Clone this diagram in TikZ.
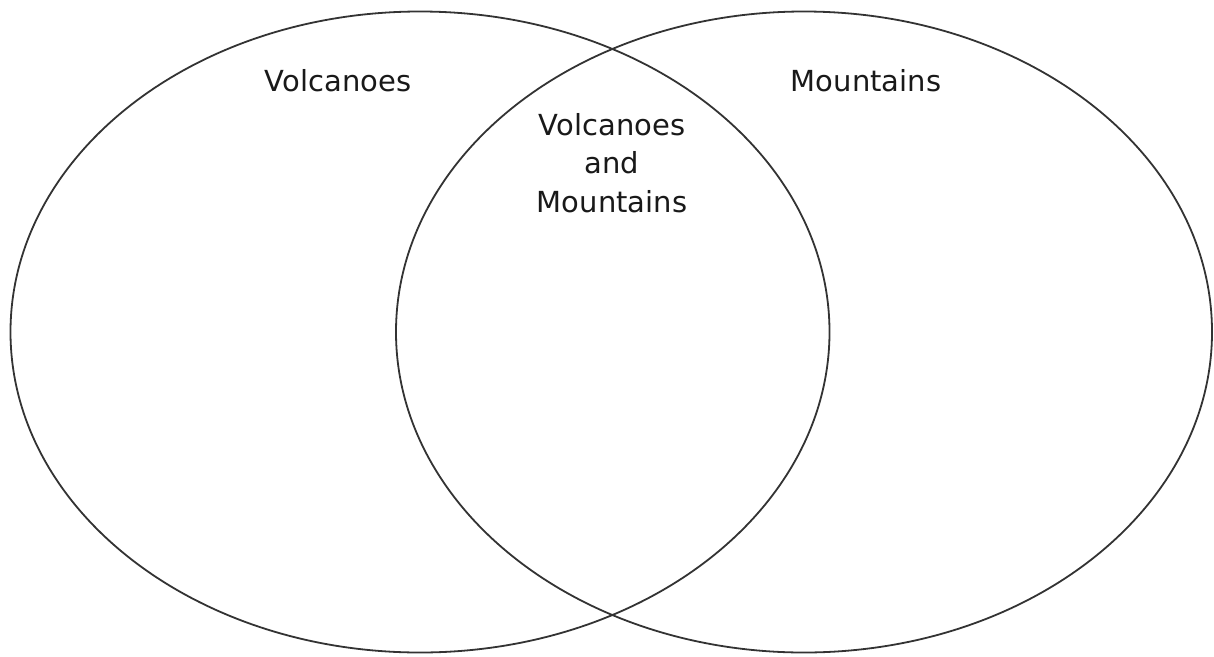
\documentclass[tikz,border=0pt]{standalone}
\usepackage{fontspec}
\setmainfont{DejaVu Sans}
\begin{document}
\begin{tikzpicture}[x=1pt,y=-1pt,
  circ/.style={draw=black!80,line width=1.8pt},
  lbl/.style={font=\fontsize{29}{38.5}\selectfont,text=black!90,align=center,inner sep=0pt,anchor=base}]
\useasboundingbox (0,0) rectangle (1214,656);
\draw[circ] (420,332) ellipse [x radius=409.5, y radius=320.5];
\draw[circ] (804,332) ellipse [x radius=408, y radius=320.5];
\node[lbl] (v) at (338,91) {Volcanoes};
\node[lbl] (m) at (866,91) {Mountains};
\node[lbl,anchor=base] (vm) at (612,212) {Volcanoes\\and\\Mountains};
\end{tikzpicture}
\end{document}
